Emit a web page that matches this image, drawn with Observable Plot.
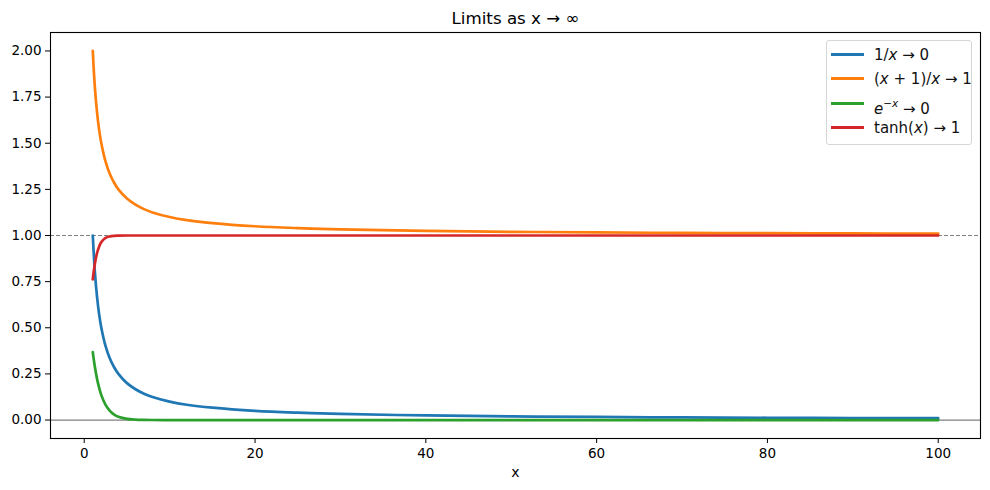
<!DOCTYPE html>
<html>
<head>
<meta charset="utf-8">
<script src="https://cdn.jsdelivr.net/npm/d3@7"></script>
<script src="https://cdn.jsdelivr.net/npm/@observablehq/plot@0.6"></script>
<style>
  html, body { margin: 0; padding: 0; background: white; }
  #wrap { position: relative; width: 990px; height: 490px; font-family: "DejaVu Sans", sans-serif; }
  #legend { position: absolute; left: 826px; top: 40px; width: 146px; height: 105px;
            border: 1px solid #d6d6d6; border-radius: 3px; background: rgba(255,255,255,0.85); box-sizing: border-box; }
  .row { position: absolute; left: 0; height: 20px; width: 145px; }
  .swatch { position: absolute; left: 4px; top: 8px; width: 33px; height: 3px; }
  .lab { position: absolute; left: 47px; top: 0; font-size: 15px; line-height: 20px; white-space: nowrap; color: #111; }
  .lab sup { font-size: 10.5px; position: relative; top: -1px; }
</style>
</head>
<body>
<div id="wrap"><div id="legend"></div></div>
<script>
// ---- data ----
const xs = [1, 1.25, 1.5, 1.75, 2, 2.5, 3, 3.5, 4, 5, 6, 7, 8, 10, 12, 15, 20, 25, 30, 40, 50, 60, 70, 80, 90, 100];
const invX = [1, 0.8, 0.667, 0.571, 0.5, 0.4, 0.333, 0.286, 0.25, 0.2, 0.167, 0.143, 0.125, 0.1, 0.083, 0.067, 0.05, 0.04, 0.033, 0.025, 0.02, 0.017, 0.014, 0.0125, 0.011, 0.01];
const ratio = [2, 1.8, 1.667, 1.571, 1.5, 1.4, 1.333, 1.286, 1.25, 1.2, 1.167, 1.143, 1.125, 1.1, 1.083, 1.067, 1.05, 1.04, 1.033, 1.025, 1.02, 1.017, 1.014, 1.0125, 1.011, 1.01];
const expNeg = [0.368, 0.287, 0.223, 0.174, 0.135, 0.082, 0.05, 0.03, 0.018, 0.0067, 0.0025, 0.0009, 0.0003, 0, 0, 0, 0, 0, 0, 0, 0, 0, 0, 0, 0, 0];
const tanhV = [0.762, 0.848, 0.905, 0.941, 0.964, 0.987, 0.995, 0.998, 0.999, 1, 1, 1, 1, 1, 1, 1, 1, 1, 1, 1, 1, 1, 1, 1, 1, 1];

const seriesNames = ["inv", "ratio", "exp", "tanh"];
const seriesLabels = ["1/<i>x</i> → 0", "(<i>x</i> + 1)/<i>x</i> → 1", "<i>e</i><sup>−<i>x</i></sup> → 0", "tanh(<i>x</i>) → 1"];
const seriesColors = ["#1f77b4", "#ff7f0e", "#2ca02c", "#d62728"];
const seriesValues = [invX, ratio, expNeg, tanhV];

const xTicks = [0, 20, 40, 60, 80, 100];
const yTicks = [0, 0.25, 0.5, 0.75, 1, 1.25, 1.5, 1.75, 2];
const refLines = [1];
const baseLine = [0];
const titleText = "Limits as x → ∞";
const xLabel = "x";

const data = [];
seriesNames.forEach((s, i) => xs.forEach((x, j) => data.push({series: s, x, y: seriesValues[i][j]})));

const chart = Plot.plot({
  width: 990,
  height: 490,
  marginLeft: 50,
  marginRight: 10,
  marginTop: 32,
  marginBottom: 52,
  style: {fontFamily: "DejaVu Sans, sans-serif", fontSize: "13.5px", background: "white", color: "black"},
  x: {domain: [-3.95, 104.95]},
  y: {domain: [-0.1, 2.1]},
  color: {domain: seriesNames, range: seriesColors},
  marks: [
    Plot.ruleY(refLines, {stroke: "#808080", strokeWidth: 1, strokeDasharray: "4,2"}),
    Plot.ruleY(baseLine, {stroke: "#808080", strokeWidth: 1.2}),
    Plot.line(data, {x: "x", y: "y", z: "series", stroke: "series", strokeWidth: 2.7, curve: "catmull-rom"}),
    Plot.frame({stroke: "black", strokeWidth: 1.1}),
    Plot.axisX({ticks: xTicks, tickSize: 5, tickPadding: 5, label: null, tickFormat: d3.format("d")}),
    Plot.axisY({ticks: yTicks, tickSize: 5, tickPadding: 4, label: null, tickFormat: d3.format(".2f")}),
    Plot.text([xLabel], {text: d => d, frameAnchor: "bottom", lineAnchor: "middle", dy: 34, fontSize: 14}),
    Plot.text([titleText], {text: d => d, frameAnchor: "top", lineAnchor: "middle", dy: -14, fontSize: 16.7})
  ]
});
document.getElementById("wrap").prepend(chart);

// legend
const legend = d3.select("#legend");
const rowTops = [4, 28, 53, 77];
seriesNames.forEach((s, i) => {
  const row = legend.append("div").attr("class", "row").style("top", rowTops[i] + "px");
  row.append("div").attr("class", "swatch").style("background", seriesColors[i]);
  row.append("div").attr("class", "lab").html(seriesLabels[i]);
});
</script>
</body>
</html>
